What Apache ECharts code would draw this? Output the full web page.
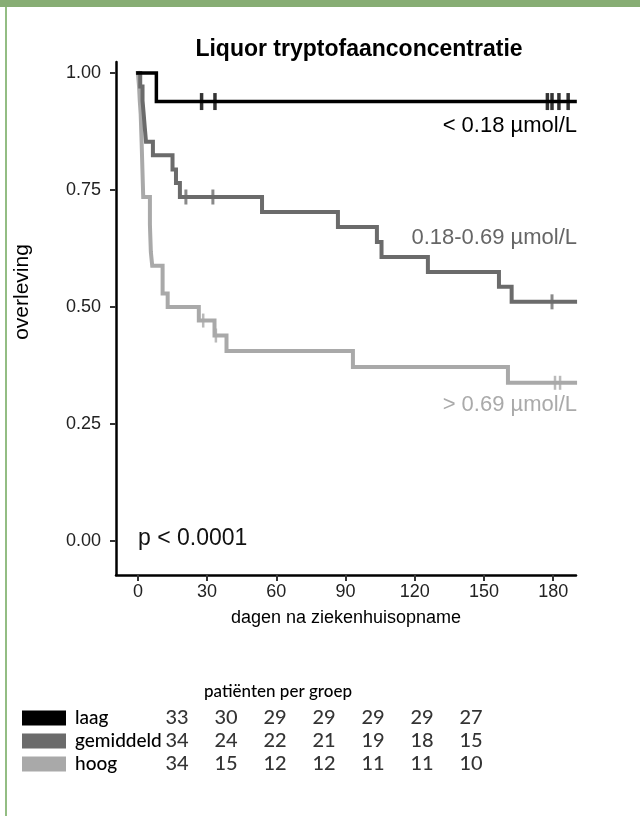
<!DOCTYPE html>
<html>
<head>
<meta charset="utf-8">
<title>Liquor tryptofaanconcentratie</title>
<script src="https://cdn.jsdelivr.net/npm/echarts@6/dist/echarts.min.js"></script>
<style>
html, body { margin: 0; padding: 0; background: #fff; }
#chart { width: 640px; height: 816px; }
</style>
</head>
<body>
<div id="chart"></div>
<script>
// Kaplan-Meier: dagen en overleving per groep
var laagT = [0, 8, 189.5];
var laagS = [1, 0.939, 0.939];
var laagCens = [27.6, 33.4, 177.5, 179.5, 182.5, 186.5];

var gemT = [0, 1, 2, 2.5, 3, 3.5, 6.5, 15, 16.5, 18.2, 53.8, 86.7, 103.6, 105.6, 125.7, 156.5, 162, 189.5];
var gemS = [1, 0.971, 0.941, 0.912, 0.882, 0.853, 0.824, 0.794, 0.765, 0.735, 0.703, 0.671, 0.639, 0.607, 0.575, 0.543, 0.511, 0.511];
var gemCens = [20.8, 32.5, 179.5];

var hoogT = [0, 0.5, 0.8, 1.2, 1.6, 2.3, 5.2, 5.6, 6.2, 10.7, 12.9, 26.4, 33.2, 38.4, 93.2, 160.4, 189.5];
var hoogS = [1, 0.971, 0.941, 0.912, 0.853, 0.735, 0.676, 0.618, 0.588, 0.529, 0.5, 0.471, 0.439, 0.406, 0.372, 0.338, 0.338];
var hoogCens = [28.3, 33.8, 180.8, 183];

var xTicks = [0, 30, 60, 90, 120, 150, 180];
var yTicks = [0, 0.25, 0.5, 0.75, 1];

// aantal patiënten per groep op de x-ticks
var groepen = ['laag', 'gemiddeld', 'hoog'];
var risLaag = [33, 30, 29, 29, 29, 29, 27];
var risGem = [34, 24, 22, 21, 19, 18, 15];
var risHoog = [34, 15, 12, 12, 11, 11, 10];

var kleuren = ['#000000', '#6b6b6b', '#a9a9a9'];
var curveLabels = ['< 0.18 µmol/L', '0.18-0.69 µmol/L', '> 0.69 µmol/L'];

var font = '"Liberation Sans", Arial, Helvetica, sans-serif';
var tabFont = 'Lato, sans-serif';

function zip(T, S) {
    var out = [];
    for (var i = 0; i < T.length; i++) out.push([T[i], S[i]]);
    return out;
}
// overleving op tijdstip t (stapfunctie)
function survAt(T, S, t) {
    var s = S[0];
    for (var i = 0; i < T.length; i++) { if (T[i] <= t) s = S[i]; }
    return s;
}
function censPts(T, S, C) {
    return C.map(function (t) { return [t, survAt(T, S, t)]; });
}

var curves = [[laagT, laagS, laagCens], [gemT, gemS, gemCens], [hoogT, hoogS, hoogCens]];
var lineW = [3.5, 4, 4];
var censSize = [[3.5, 17], [3, 15], [2.5, 14]];
var zOrder = [5, 4, 3];

var series = [];
curves.forEach(function (c, i) {
    series.push({
        name: groepen[i], type: 'line', step: 'end',
        xAxisIndex: 0, yAxisIndex: 0,
        data: zip(c[0], c[1]),
        showSymbol: false, symbol: 'none',
        lineStyle: { color: kleuren[i], width: lineW[i], cap: 'square', join: 'miter' },
        z: zOrder[i], silent: true
    });
    series.push({
        type: 'scatter', xAxisIndex: 0, yAxisIndex: 0,
        data: censPts(c[0], c[1], c[2]),
        symbol: 'rect', symbolSize: censSize[i],
        itemStyle: { color: kleuren[i] },
        z: zOrder[i], silent: true
    });
});

// risicotabel
var rissen = [risLaag, risGem, risHoog];
var tabData = [];
rissen.forEach(function (r, ri) {
    r.forEach(function (v, ci) { tabData.push([ci, ri, v]); });
});
series.push({
    type: 'scatter', xAxisIndex: 1, yAxisIndex: 1,
    data: tabData, symbolSize: 1,
    itemStyle: { color: 'rgba(0,0,0,0)' },
    label: {
        show: true, position: 'inside',
        formatter: function (p) { return p.value[2]; },
        fontFamily: tabFont, fontSize: 20, fontWeight: 500, color: '#000'
    },
    silent: true
});

var rich = { n: { fontFamily: tabFont, fontSize: 19, fontWeight: 500, color: '#000', padding: [0, 0, 0, 9] } };
kleuren.forEach(function (k, i) {
    rich['s' + i] = { backgroundColor: k, width: 44, height: 15 };
});

var chart = echarts.init(document.getElementById('chart'), null, { renderer: 'canvas' });
chart.setOption({
    animation: false,
    backgroundColor: '#fff',
    title: [{
        text: 'Liquor tryptofaanconcentratie',
        left: 354, top: 33, textAlign: 'center',
        textStyle: { fontFamily: font, fontWeight: 'bold', fontSize: 23, color: '#000' }
    }, {
        text: 'patiënten per groep',
        left: 273, top: 678, textAlign: 'center',
        textStyle: { fontFamily: tabFont, fontWeight: 500, fontSize: 17, color: '#000' }
    }],
    grid: [
        { left: 116, top: 62, width: 460, height: 513, outerBoundsMode: 'none', containLabel: false },
        { left: 152.5, top: 706.5, width: 343, height: 69, outerBoundsMode: 'none', containLabel: false }
    ],
    xAxis: [{
        gridIndex: 0, type: 'value', min: -9.5, max: 189.9,
        name: 'dagen na ziekenhuisopname', nameLocation: 'middle', nameGap: 34,
        nameTextStyle: { fontFamily: font, fontSize: 18, color: '#000' },
        splitLine: { show: false },
        axisLine: { onZero: false, lineStyle: { color: '#000', width: 2.5 } },
        axisTick: { customValues: xTicks, length: 6, lineStyle: { color: '#333', width: 2 } },
        axisLabel: { customValues: xTicks, margin: 8, fontFamily: font, fontSize: 18, color: '#222' }
    }, {
        gridIndex: 1, type: 'category', data: xTicks.map(String), show: false
    }],
    yAxis: [{
        gridIndex: 0, type: 'value', min: -0.0727, max: 1.0235,
        splitLine: { show: false },
        axisLine: { show: true, onZero: false, lineStyle: { color: '#000', width: 2.5 } },
        axisTick: { show: true, customValues: yTicks, length: 6, lineStyle: { color: '#333', width: 2 } },
        axisLabel: {
            customValues: yTicks, margin: 15, fontFamily: font, fontSize: 18, color: '#222',
            formatter: function (v) { return v.toFixed(2); }
        }
    }, {
        gridIndex: 1, type: 'category', data: groepen, inverse: true,
        axisLine: { show: false }, axisTick: { show: false }, splitLine: { show: false },
        axisLabel: {
            align: 'left', margin: 130.5,
            formatter: function (v, i) { return '{s' + i + '|}{n|' + v + '}'; },
            rich: rich
        }
    }],
    graphic: [
        { type: 'rect', shape: { x: 0, y: 0, width: 640, height: 7 }, style: { fill: '#87ad74' }, silent: true },
        { type: 'rect', shape: { x: 5, y: 7, width: 2, height: 809 }, style: { fill: '#93bd83' }, silent: true },
        { type: 'text', x: 22, y: 292, rotation: Math.PI / 2, style: { text: 'overleving', textAlign: 'center', textVerticalAlign: 'middle', font: '21px ' + font, fill: '#000' } },
        { type: 'text', x: 577, y: 126, style: { text: curveLabels[0], textAlign: 'right', textVerticalAlign: 'middle', font: '22px ' + font, fill: '#000' } },
        { type: 'text', x: 577, y: 238, style: { text: curveLabels[1], textAlign: 'right', textVerticalAlign: 'middle', font: '22px ' + font, fill: '#666' } },
        { type: 'text', x: 577, y: 405, style: { text: curveLabels[2], textAlign: 'right', textVerticalAlign: 'middle', font: '22px ' + font, fill: '#aaa' } },
        { type: 'text', x: 138, y: 539, style: { text: 'p < 0.0001', textAlign: 'left', textVerticalAlign: 'middle', font: '23px ' + font, fill: '#111' } }
    ],
    series: series
});
</script>
</body>
</html>
